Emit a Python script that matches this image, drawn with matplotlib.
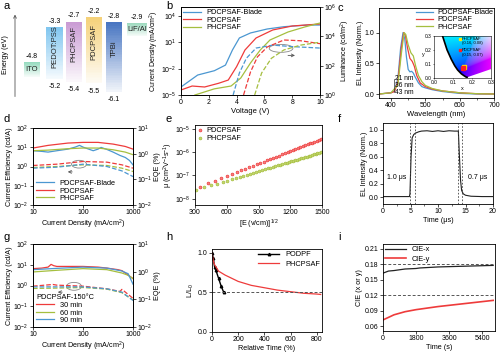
import numpy as np
import matplotlib.pyplot as plt
from matplotlib.patches import Ellipse, Polygon
from matplotlib.ticker import NullLocator, MultipleLocator

plt.rcParams['font.family'] = ['Liberation Sans', 'DejaVu Sans']
plt.rcParams['font.size'] = 5
plt.rcParams['mathtext.default'] = 'regular'
plt.rcParams['axes.linewidth'] = 0.6
for k in ['xtick', 'ytick']:
    plt.rcParams[k + '.major.width'] = 0.5
    plt.rcParams[k + '.major.size'] = 2
    plt.rcParams[k + '.minor.width'] = 0.4
    plt.rcParams[k + '.minor.size'] = 1.2
    plt.rcParams[k + '.major.pad'] = 1.2
    plt.rcParams[k + '.labelsize'] = 5

BLUE = '#4b97d1'
RED = '#ee3b3b'
GREEN = '#a5bf3f'
LAB = 5.2

# ---- a: energy levels
layers = ['ITO', 'PEDOT:PSS', 'PHCPSAF', 'PDCPSAF', 'TPBi', 'LiF/Al']
lumo = [-4.8, -3.3, -2.7, -2.2, -2.8, -2.9]
homo = [None, -5.2, -5.4, -5.5, -6.1, None]
layer_cols = ['#8fd9bb', '#79c3ef', '#c796d2', '#f5cf72', '#3f6fbf', '#9ad9bd']

# ---- b: J-V-L
v_blue = [0, 1.2, 2.4, 3.2, 3.7, 4.2, 5.0, 6.2, 7.4, 9.1, 10]
j_blue = [-4.09, -2.73, -2.24, -1.6, 0.11, 1.48, 2.05, 2.5, 2.76, 2.95, 2.95]
v_red = [0, 0.8, 1.7, 2.7, 3.4, 4.0, 4.6, 5.4, 6.6, 8.0, 10]
j_red = [-4.43, -3.98, -4.09, -3.67, -3.3, -1.78, 0.11, 1.48, 2.39, 2.84, 3.07]
v_green = [1.0, 2.4, 3.6, 4.3, 5.0, 5.7, 6.4, 7.7, 8.9, 10]
j_green = [-5.0, -4.3, -3.98, -3.07, -1.36, 0.11, 1.25, 2.16, 2.73, 3.18]
lv_blue = [3.75, 4.2, 4.7, 5.4, 6.6, 8.0, 10]
l_blue = [0, 1.5, 2.5, 3.2, 3.4, 3.3, 3.2]
lv_red = [4.5, 5.0, 5.5, 6.2, 7.4, 8.6, 10]
l_red = [0, 1.57, 2.6, 3.27, 3.75, 3.7, 3.5]
lv_green = [5.3, 5.8, 6.5, 7.4, 8.6, 10]
l_green = [0, 1.5, 2.5, 3.07, 3.4, 3.6]

# ---- c: EL spectra
wl_blue = [365, 400, 410, 420, 428, 435, 440, 445, 450, 455, 460, 465, 470, 480, 490, 500, 520, 550, 600, 650, 700]
el_blue = [0.0, 0.02, 0.05, 0.25, 0.75, 1.0, 0.9, 0.6, 0.4, 0.36, 0.37, 0.34, 0.28, 0.18, 0.12, 0.1, 0.07, 0.04, 0.01, 0.0, 0.0]
wl_red = [365, 400, 410, 420, 430, 437, 442, 448, 455, 462, 468, 475, 485, 500, 520, 550, 600, 650, 700]
el_red = [0.0, 0.02, 0.04, 0.2, 0.75, 1.0, 0.95, 0.75, 0.58, 0.53, 0.45, 0.3, 0.18, 0.12, 0.08, 0.05, 0.02, 0.005, 0.0]
wl_green = [365, 400, 420, 430, 438, 443, 450, 458, 465, 472, 480, 490, 500, 520, 550, 600, 650, 700]
el_green = [0.0, 0.02, 0.15, 0.65, 1.0, 0.97, 0.8, 0.67, 0.62, 0.45, 0.3, 0.2, 0.14, 0.09, 0.05, 0.02, 0.005, 0.0]
cie_pts = {'PHCPSAF': (0.16, 0.08), 'PDCPSAF': (0.15, 0.07)}
locus_x = [0.045, 0.0687, 0.0913, 0.1096, 0.1241, 0.144, 0.1566, 0.1644, 0.1689, 0.1741]
locus_y = [0.30, 0.2007, 0.1327, 0.0868, 0.0578, 0.0297, 0.0177, 0.0109, 0.0069, 0.005]

# ---- d: efficiency
d_red_x = [10, 20, 50, 100, 200, 400, 700, 1000]
d_red_ce = [9.1, 12.5, 16.5, 17.9, 17.9, 14.6, 11.0, 8.0]
d_green_x = [10, 20, 50, 100, 200, 400, 700, 1000]
d_green_ce = [6.6, 7.1, 8.4, 9.1, 9.1, 7.4, 5.6, 4.1]
d_blue_x = [10, 15, 20, 30, 50, 70, 85, 100, 130, 160, 200, 230, 300, 400, 550, 700, 850, 1000]
d_blue_ce = [6.6, 6.1, 5.6, 6.6, 8.0, 10.2, 12.5, 10.2, 8.0, 6.6, 8.0, 9.8, 7.7, 5.6, 3.75, 2.95, 2.06, 1.22]
d_dash_x = [10, 30, 100, 300, 600, 1000]
d_red_eqe = [1.13, 1.32, 1.82, 1.68, 1.22, 0.82]
d_green_eqe = [0.89, 1.0, 1.22, 1.13, 0.82, 0.55]
d_blue_eqe = [0.82, 0.92, 1.32, 1.0, 0.59, 0.30]

# ---- e: mobility (log10 mu)
e_pd_x = [346, 424, 490, 548, 600, 648, 693, 735, 775, 812, 849, 883, 917, 949, 980, 1010, 1039, 1068,
          1095, 1122, 1149, 1175, 1200, 1225, 1249, 1273, 1296, 1319, 1342, 1364, 1386, 1407, 1428, 1449, 1470, 1490]
e_pd_mu = [-7.48, -7.341, -7.224, -7.121, -7.029, -6.944, -6.864, -6.789, -6.718, -6.652, -6.587, -6.526,
           -6.466, -6.409, -6.354, -6.301, -6.249, -6.198, -6.150, -6.102, -6.054, -6.008, -5.963, -5.919,
           -5.876, -5.834, -5.793, -5.752, -5.711, -5.672, -5.633, -5.596, -5.558, -5.521, -5.484, -5.448]
e_ph_x = [306, 389, 455, 511, 561, 606, 648, 687, 723, 758, 791, 822, 852, 881, 909, 936, 962, 987, 1012, 1036,
          1059, 1082, 1104, 1126, 1147, 1168, 1188, 1208, 1228, 1247, 1266, 1285, 1303, 1321, 1339, 1357, 1374,
          1391, 1408, 1424, 1440, 1456, 1472, 1488]
e_ph_mu = [-7.630, -7.517, -7.427, -7.350, -7.282, -7.221, -7.163, -7.110, -7.061, -7.013, -6.968, -6.926,
           -6.885, -6.845, -6.807, -6.770, -6.735, -6.700, -6.666, -6.634, -6.602, -6.571, -6.541, -6.511,
           -6.482, -6.453, -6.426, -6.399, -6.371, -6.346, -6.320, -6.294, -6.269, -6.245, -6.220, -6.195,
           -6.172, -6.149, -6.126, -6.104, -6.082, -6.060, -6.038, -6.016]

# ---- f: transient EL
f_t = [0, 4.8, 4.9, 5.1, 5.3, 5.6, 5.9, 6.5, 7.0, 8, 9, 10, 11, 12, 13, 13.7, 13.9, 14.1, 14.3, 14.6, 15, 16, 18, 20]
f_el = [0.01, 0.01, 0.05, 0.6, 0.88, 0.93, 0.95, 0.97, 0.98, 0.985, 0.975, 0.985, 0.975, 0.985, 0.98, 0.98,
        0.6, 0.25, 0.1, 0.05, 0.03, 0.015, 0.01, 0.01]
f_marks = [4.9, 5.9, 13.6, 14.3]

# ---- g: annealing time
g_red_x = [10, 15, 20, 23, 26, 30, 50, 100, 200, 300, 500, 600, 700, 1000]
g_red_ce = [6.5, 6.9, 7.7, 10.4, 9.0, 8.3, 8.3, 8.3, 7.7, 6.9, 5.8, 5.2, 4.0, 2.15]
g_x = [10, 30, 100, 300, 600, 800, 1000]
g_green_ce = [4.5, 5.4, 6.5, 5.8, 4.0, 3.1, 2.15]
g_blue_ce = [5.8, 6.7, 7.7, 6.9, 5.0, 3.7, 1.16]
g_red_dx = [10, 25, 30, 100, 300, 550, 600, 650, 1000]
g_red_eqe = [0.93, 1.12, 1.04, 0.93, 0.69, 0.52, 0.65, 0.56, 0.24]
g_dx = [10, 30, 100, 300, 600, 1000]
g_green_eqe = [0.72, 0.75, 0.80, 0.67, 0.45, 0.20]
g_blue_eqe = [0.86, 0.86, 0.86, 0.69, 0.48, 0.19]

# ---- h: lifetime
h_podpf_t = [0, 10, 20, 30, 50, 70, 90]
h_podpf_l = [1.0, 0.93, 0.82, 0.78, 0.68, 0.58, 0.5]
h_ph_t = [0, 10, 20, 50, 100, 200, 300, 400, 500, 600, 700, 800, 830]
h_ph_l = [1.0, 0.9, 0.85, 0.77, 0.72, 0.64, 0.59, 0.56, 0.53, 0.51, 0.49, 0.48, 0.475]

# ---- i: CIE stability
i_t = [0, 300, 600, 1000, 1200, 1800, 2000, 3000, 4000, 5000, 6000]
i_cx = [0.163, 0.167, 0.168, 0.170, 0.171, 0.172, 0.173, 0.175, 0.176, 0.177, 0.178]
i_cy = [0.072, 0.077, 0.082, 0.086, 0.088, 0.092, 0.093, 0.098, 0.102, 0.106, 0.110]


def fa(l, t, r, b):
    # pixel box -> figure fraction
    return [l / 500, 1 - b / 352, (r - l) / 500, (b - t) / 352]


def nominor(ax):
    ax.xaxis.set_minor_locator(NullLocator())
    ax.yaxis.set_minor_locator(NullLocator())


fig = plt.figure(figsize=(5, 3.52), dpi=100)

# panel letters
for lt, x, y in [('a', 3, 6), ('b', 166, 6), ('c', 338, 8), ('d', 3, 119), ('e', 166, 119),
                 ('f', 338, 119), ('g', 3, 237), ('h', 166, 237), ('i', 338, 237)]:
    fig.text(x / 500, 1 - y / 352, lt, fontsize=8, va='center')

# ===== a  (diagram is not to scale: piecewise energy axis)
e_knots = [-7.0, -6.1, -5.2, -4.8, -3.3, -2.2, -1.0]
y_knots = [-104, -92, -79, -62, -27, -17, -3]


def e_fwd(e):
    return np.interp(e, e_knots, y_knots)


def e_inv(y):
    return np.interp(y, y_knots, e_knots)


axa = fig.add_axes(fa(0, 5, 160, 100))
axa.set_yscale('function', functions=(e_fwd, e_inv))
axa.axis('off')
xc = [32, 54.5, 74, 94, 114, 137]
wd = [16, 17, 16, 16, 16, 20]
box_depth = {'ITO': -5.15, 'LiF/Al': -3.7}
nseg = 40
for i, name in enumerate(layers):
    top = lumo[i]
    bot = homo[i] if homo[i] is not None else box_depth[name]
    edges = e_inv(np.linspace(e_fwd(top), e_fwd(bot), nseg + 1))
    for s in range(nseg):
        axa.bar(xc[i], edges[s + 1] - edges[s], bottom=edges[s], width=wd[i], color=layer_cols[i],
                alpha=0.95 - 0.9 * s / nseg, lw=0)
    axa.annotate(f'{top}', (xc[i], top), xytext=(0, 1.5), textcoords='offset points',
                 ha='center', va='bottom', fontsize=5)
    if homo[i] is not None:
        axa.annotate(f'{bot}', (xc[i], bot), xytext=(0, -3), textcoords='offset points',
                     ha='center', va='top', fontsize=5)
        ymid = e_inv(e_fwd(top) * 0.62 + e_fwd(bot) * 0.38)
        axa.text(xc[i], ymid, name, ha='center', va='center', rotation=90, fontsize=5.5, color='#222222')
    else:
        axa.text(xc[i], e_inv((e_fwd(top) + e_fwd(bot)) / 2), name, ha='center', va='center',
                 fontsize=5.5, color='#222222')
axa.set_xlim(0, 160)
axa.set_ylim(-6.7, -1.17)
axa.annotate('', xy=(15, -1.75), xytext=(15, -6.65),
             arrowprops=dict(arrowstyle='->', lw=0.6, color='#555555'))
axa.text(6, e_inv(-55), 'Energy (eV)', rotation=90, ha='center', va='center', fontsize=LAB)

# ===== b
axb = fig.add_axes(fa(181, 7, 320, 95))
axb.plot(v_blue, 10 ** np.array(j_blue), color=BLUE, lw=0.9, label='PDCPSAF-Blade')
axb.plot(v_red, 10 ** np.array(j_red), color=RED, lw=0.9, label='PDCPSAF')
axb.plot(v_green, 10 ** np.array(j_green), color=GREEN, lw=0.9, label='PHCPSAF')
axb.set_yscale('log')
axb.set_xlim(0, 10)
axb.set_ylim(1e-5, 1e5)
axb.set_yticks([1e-5, 1e-2, 1e1, 1e4])
axb.set_xlabel('Voltage (V)', fontsize=LAB + 0.3, labelpad=1)
axb.set_ylabel('Current Density (mA/cm$^2$)', fontsize=5, labelpad=0.5)
axb.legend(loc='upper left', fontsize=5.3, frameon=False, handlelength=2.4, labelspacing=0.05,
           borderaxespad=0.2, borderpad=0.1)
nominor(axb)
axb2 = axb.twinx()
axb2.plot(lv_blue, 10 ** np.array(l_blue), color=BLUE, lw=0.9, ls='--')
axb2.plot(lv_red, 10 ** np.array(l_red), color=RED, lw=0.9, ls='--')
axb2.plot(lv_green, 10 ** np.array(l_green), color=GREEN, lw=0.9, ls='--')
axb2.set_yscale('log')
axb2.set_ylim(1, 1e6)
axb2.set_yticks([1, 1e2, 1e4, 1e6])
axb2.set_ylabel('Luminance (cd/m$^2$)', fontsize=LAB, labelpad=1)
nominor(axb2)
axb.add_patch(Ellipse((0.72, 0.53), 0.17, 0.09, transform=axb.transAxes, fill=False, ec='#888888', lw=0.6))
axb.annotate('', xy=(0.84, 0.45), xytext=(0.75, 0.45), xycoords='axes fraction',
             arrowprops=dict(arrowstyle='->', lw=0.6, color='#555555'))

# ===== c
axc = fig.add_axes(fa(379, 8, 494, 98))
axc.plot(wl_blue, el_blue, color=BLUE, lw=0.9, label='PDCPSAF-Blade')
axc.plot(wl_red, el_red, color=RED, lw=0.9, label='PDCPSAF')
axc.plot(wl_green, el_green, color=GREEN, lw=0.9, label='PHCPSAF')
axc.set_xlim(365, 700)
axc.set_ylim(-0.065, 1.40)
axc.set_yticks([0.0, 0.5, 1.0])
axc.set_xticks([400, 500, 600, 700])
axc.xaxis.set_minor_locator(MultipleLocator(50))
axc.set_xlabel('Wavelength (nm)', fontsize=LAB + 0.3, labelpad=1)
axc.set_ylabel('EL Intensity (Norm.)', fontsize=LAB, labelpad=0.5)
axc.legend(loc='upper right', fontsize=5.3, frameon=False, handlelength=2.4, labelspacing=0.0,
           borderaxespad=0.05, borderpad=0.1, handletextpad=0.5)
axc.plot([408, 408], [0.03, 0.24], color='#333333', lw=0.5)
axc.text(411, 0.135, '21 nm\n36 nm\n43 nm', fontsize=4.8, va='center', linespacing=1.0)

ins = fig.add_axes(fa(434, 36, 491, 78))
gx, gy = np.meshgrid(np.linspace(0.001, 0.3, 200), np.linspace(0.001, 0.3, 200))
X = gx / gy
Z = (1 - gx - gy) / gy
M = np.array([[3.2406, -1.5372, -0.4986], [-0.9689, 1.8758, 0.0415], [0.0557, -0.2040, 1.0570]])
rgb = np.stack([X, np.ones_like(X), Z], -1) @ M.T
rgb = np.clip(rgb, 0, None)
rgb = rgb / rgb.max(axis=-1, keepdims=True)
rgb = np.clip(rgb, 0, 1) ** (1 / 2.2)
im = ins.imshow(rgb, extent=[0, 0.3, 0, 0.3], origin='lower', aspect='auto')
poly = Polygon(list(zip(locus_x, locus_y)) + [(0.3, 0.0635), (0.3, 0.3)], closed=True,
               transform=ins.transData, fc='none', ec='none')
ins.add_patch(poly)
im.set_clip_path(poly)
ins.plot(locus_x, locus_y, color='k', lw=1.2)
ins.plot(*cie_pts['PHCPSAF'], 's', color='#ffe600', ms=2.2)
ins.plot(*cie_pts['PDCPSAF'], 's', color='#ff2020', ms=2.2)
ins.plot(0.135, 0.28, 's', color='#ffe600', ms=2)
ins.text(0.145, 0.262, 'PHCPSAF\n(0.16, 0.08)', fontsize=3, va='center', linespacing=1.1)
ins.plot(0.135, 0.2, 's', color='#ff2020', ms=2)
ins.text(0.145, 0.182, 'PDCPSAF\n(0.15, 0.07)', fontsize=3, va='center', linespacing=1.1)
ins.set_xlim(0, 0.3)
ins.set_ylim(0, 0.3)
ins.set_xticks([0.0, 0.1, 0.2, 0.3])
ins.set_yticks([0.0, 0.1, 0.2, 0.3])
ins.tick_params(labelsize=3.5, length=1, pad=0.8, width=0.4)
ins.set_xlabel('x', fontsize=4, labelpad=0)
ins.set_ylabel('y', fontsize=4, labelpad=1, rotation=0)
for s in ins.spines.values():
    s.set_linewidth(0.4)


def eff_panel(ax, solid, dashed):
    for x, y, c, lab in solid:
        ax.plot(x, y, color=c, lw=0.9, label=lab)
    for x, y, c in dashed:
        ax.plot(x, y, color=c, lw=0.9, ls='--')
    ax.set_xscale('log')
    ax.set_yscale('log')
    ax.set_xlim(10, 1000)
    ax.set_ylim(1e-2, 1e2)
    ax.set_yticks([1e-2, 1e-1, 1, 1e1, 1e2])
    ax.set_xticks([10, 100, 1000])
    ax.set_xticklabels(['10', '100', '1000'])
    ax.set_xlabel('Current Density (mA/cm$^2$)', fontsize=LAB, labelpad=1)
    ax.set_ylabel('Current Efficiency (cd/A)', fontsize=LAB, labelpad=0.5)
    nominor(ax)
    a2 = ax.twinx()
    a2.set_yscale('log')
    a2.set_ylim(1e-2, 1e1)
    a2.set_yticks([1e-2, 1e-1, 1, 1e1])
    a2.set_ylabel('EQE (%)', fontsize=LAB, labelpad=1)
    nominor(a2)
    return a2


# ===== d
axd = fig.add_axes(fa(33, 128, 133, 205))
eff_panel(axd,
          [(d_blue_x, d_blue_ce, BLUE, 'PDCPSAF-Blade'), (d_red_x, d_red_ce, RED, 'PDCPSAF'),
           (d_green_x, d_green_ce, GREEN, 'PHCPSAF')],
          [(d_dash_x, d_red_eqe, RED), (d_dash_x, d_green_eqe, GREEN), (d_dash_x, d_blue_eqe, BLUE)])
axd.legend(loc='lower left', fontsize=5.3, frameon=False, handlelength=2.4, labelspacing=0.05,
           borderaxespad=0.3, borderpad=0.1)
axd.add_patch(Ellipse((0.46, 0.53), 0.15, 0.1, transform=axd.transAxes, fill=False, ec='#888888', lw=0.6))
axd.annotate('', xy=(0.32, 0.43), xytext=(0.42, 0.43), xycoords='axes fraction',
             arrowprops=dict(arrowstyle='->', lw=0.6, color='#555555'))

# ===== e
axe = fig.add_axes(fa(195, 125, 322, 205))
axe.plot(e_pd_x, 10 ** np.array(e_pd_mu), 'o', ms=2, mfc='#f47f7f', mec=RED, mew=0.5, label='PDCPSAF')
axe.plot(e_ph_x, 10 ** np.array(e_ph_mu), 'o', ms=2, mfc='#c4d66f', mec=GREEN, mew=0.5, label='PHCPSAF')
axe.set_yscale('log')
axe.set_xlim(300, 1500)
axe.set_ylim(10 ** -8.27, 10 ** -4.84)
axe.set_yticks([1e-8, 1e-7, 1e-6, 1e-5])
axe.set_xticks([300, 600, 900, 1200, 1500])
axe.set_xlabel('[E (v/cm)]$^{1/2}$', fontsize=LAB, labelpad=1)
axe.set_ylabel('$\\mu$ (cm$^2$V$^{-1}$s$^{-1}$)', fontsize=LAB, labelpad=0.5)
axe.legend(loc='upper left', fontsize=5.3, frameon=False, handlelength=0.8, handletextpad=0.4,
           labelspacing=0.1, borderaxespad=0.2, borderpad=0.1)
nominor(axe)

# ===== f
axf = fig.add_axes(fa(383, 123, 493, 204))
axf.plot(f_t, f_el, color='#222222', lw=0.8)
for t in f_marks:
    axf.axvline(t, color='#444444', lw=0.6, ls=(0, (2, 2)))
axf.set_xlim(0, 20)
axf.set_ylim(-0.1, 1.1)
axf.set_yticks([0.0, 0.2, 0.4, 0.6, 0.8, 1.0])
axf.set_xticks([0, 5, 10, 15, 20])
axf.xaxis.set_minor_locator(MultipleLocator(2.5))
axf.text(2.5, 0.27, '1.0 \u03bcs', fontsize=5, ha='center')
axf.text(17.2, 0.27, '0.7 \u03bcs', fontsize=5, ha='center')
axf.set_xlabel('Time (\u03bcs)', fontsize=LAB, labelpad=1)
axf.set_ylabel('EL Intensity (Norm.)', fontsize=LAB, labelpad=0.5)

# ===== g
axg = fig.add_axes(fa(33, 244, 133, 327))
eff_panel(axg,
          [(g_red_x, g_red_ce, RED, '30 min'), (g_x, g_green_ce, GREEN, '60 min'),
           (g_x, g_blue_ce, BLUE, '90 min')],
          [(g_red_dx, g_red_eqe, RED), (g_dx, g_green_eqe, GREEN), (g_dx, g_blue_eqe, BLUE)])
axg.legend(loc='lower left', fontsize=5.3, frameon=False, handlelength=2.4, labelspacing=0.05,
           borderaxespad=0.3, borderpad=0.1, title='PDCPSAF-150\u00b0C', title_fontsize=5.3,
           alignment='left')
axg.add_patch(Ellipse((0.41, 0.49), 0.15, 0.095, transform=axg.transAxes, fill=False, ec='#888888', lw=0.6))
axg.annotate('', xy=(0.22, 0.42), xytext=(0.32, 0.42), xycoords='axes fraction',
             arrowprops=dict(arrowstyle='->', lw=0.6, color='#555555'))

# ===== h
axh = fig.add_axes(fa(212, 249, 322, 332))
axh.plot(h_podpf_t, h_podpf_l, color='k', lw=1.0, marker='^', ms=1.8, label='PODPF')
axh.plot(h_ph_t, h_ph_l, color=RED, lw=0.9, label='PHCPSAF')
axh.axhline(0.5, color='#555555', lw=0.7, ls=(0, (3, 2)))
axh.set_xlim(0, 840)
axh.set_ylim(0, 1.05)
axh.set_yticks([0.0, 0.5, 1.0])
axh.set_xticks([0, 200, 400, 600, 800])
axh.set_xlabel('Relative Time (%)', fontsize=LAB, labelpad=1)
axh.set_ylabel('L/L$_0$', fontsize=LAB, labelpad=1)
axh.legend(loc='upper right', fontsize=5.3, frameon=False, handlelength=2.8, labelspacing=0.3,
           borderaxespad=0.2, borderpad=0.1)

# ===== i
axi = fig.add_axes(fa(383, 244, 495, 331))
axi.plot(i_t, i_cx, color='#222222', lw=0.9, label='CIE-x')
axi.plot(i_t, i_cy, color=RED, lw=1.2, label='CIE-y')
axi.axhline(0.18, color='#555555', lw=0.7, ls=(0, (3, 2)))
axi.axhline(0.12, color='#555555', lw=0.7, ls=(0, (3, 2)))
axi.set_xlim(0, 6100)
axi.set_ylim(0.0505, 0.2196)
axi.set_yticks([0.06, 0.09, 0.12, 0.15, 0.18, 0.21])
axi.set_xticks([0, 1800, 3600, 5400])
axi.set_xlabel('Time (s)', fontsize=LAB, labelpad=1)
axi.set_ylabel('CIE (x or y)', fontsize=LAB, labelpad=1)
axi.legend(loc='upper left', fontsize=5.3, frameon=False, handlelength=2.8, labelspacing=0.3,
           borderaxespad=0.2, borderpad=0.1)

fig.savefig('out.png', dpi=100)
